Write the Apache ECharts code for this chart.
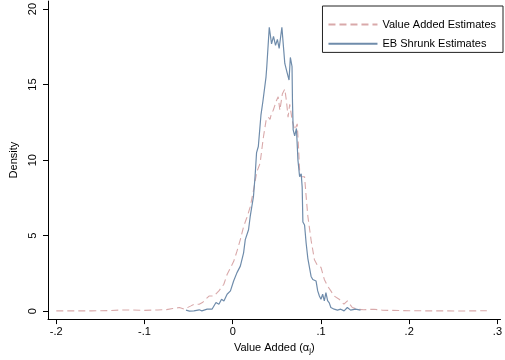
<!DOCTYPE html>
<html>
<head>
<meta charset="utf-8">
<script src="https://cdn.jsdelivr.net/npm/echarts@6/dist/echarts.min.js"></script>
<style>html,body{margin:0;padding:0;background:#fff}#c{width:505px;height:360px}</style>
</head>
<body>
<div id="c"></div>
<script>
const seriesNames = ['Value Added Estimates', 'EB Shrunk Estimates'];
const xTicks = [-0.2, -0.1, 0, 0.1, 0.2, 0.3];
const xTickLabels = ['-.2', '-.1', '0', '.1', '.2', '.3'];
const yTicks = [0, 5, 10, 15, 20];
const yTickLabels = ['0', '5', '10', '15', '20'];

// [value added, density]
const valueAdded = [[-0.2,0.02],[-0.18,0.02],[-0.16,0.02],[-0.14,0.04],[-0.125,0.08],[-0.115,0.08],[-0.1,0.05],[-0.085,0.08],[-0.075,0.1],[-0.068,0.18],[-0.0605,0.24],[-0.0549,0.13],[-0.0474,0.35],[-0.0437,0.46],[-0.038,0.46],[-0.0344,0.57],[-0.0269,1.0],[-0.0213,1.0],[-0.0157,1.34],[-0.0101,1.78],[-0.0064,2.43],[-0.0026,2.87],[0.0011,3.3],[0.0048,3.97],[0.0086,4.74],[0.0123,5.6],[0.016,6.2],[0.0198,6.9],[0.0235,8.0],[0.0272,9.2],[0.031,9.8],[0.0347,11.5],[0.0377,12.6],[0.0403,12.85],[0.0422,12.7],[0.044,13.1],[0.0459,13.3],[0.0496,13.95],[0.0515,14.2],[0.0534,13.3],[0.0563,14.4],[0.059,14.7],[0.0608,13.95],[0.0627,12.85],[0.0646,13.7],[0.0675,12.6],[0.0702,12.0],[0.0731,12.4],[0.0747,10.7],[0.0758,9.3],[0.0776,8.9],[0.0795,8.8],[0.0814,8.9],[0.0832,7.6],[0.0851,6.3],[0.0888,4.7],[0.0926,3.4],[0.0963,3.0],[0.1,2.9],[0.1038,2.1],[0.1075,1.66],[0.1112,1.34],[0.115,1.0],[0.1206,0.79],[0.126,0.46],[0.13,0.68],[0.1355,0.24],[0.141,0.13],[0.1486,0.09],[0.16,0.13],[0.17,0.06],[0.18,0.05],[0.2,0.03],[0.22,0.02],[0.24,0.02],[0.26,0.01],[0.275,0.02],[0.288,0.03]];

const ebShrunk = [[-0.053,0.07],[-0.049,0.0],[-0.044,0.02],[-0.038,0.09],[-0.035,0.02],[-0.029,0.13],[-0.0235,0.13],[-0.019,0.57],[-0.0157,0.46],[-0.0127,0.79],[-0.010,0.68],[-0.0064,1.12],[-0.0026,1.34],[0.001,2.0],[0.0048,2.55],[0.0086,2.98],[0.0123,3.86],[0.0142,4.74],[0.0179,5.39],[0.0198,6.27],[0.0235,7.59],[0.0254,9.0],[0.027,10.5],[0.029,10.9],[0.031,11.0],[0.032,13.0],[0.0342,13.9],[0.0377,15.5],[0.0386,16.2],[0.0414,18.8],[0.044,17.7],[0.0462,18.2],[0.0485,17.6],[0.0506,18.0],[0.0526,17.4],[0.0557,18.8],[0.0579,17.2],[0.059,16.4],[0.0616,15.8],[0.0638,15.3],[0.0653,16.8],[0.0672,16.2],[0.0677,13.9],[0.0685,12.0],[0.0702,11.6],[0.0722,12.1],[0.0739,10.0],[0.0758,8.9],[0.0765,8.9],[0.0776,9.1],[0.0787,8.2],[0.0795,5.9],[0.0814,5.7],[0.0832,4.5],[0.0851,3.5],[0.087,3.4],[0.0888,2.3],[0.0907,2.1],[0.0944,2.0],[0.0963,1.34],[0.0982,1.0],[0.1,0.79],[0.1019,1.12],[0.1038,0.68],[0.1056,1.23],[0.1075,0.7],[0.1094,0.55],[0.1112,0.24],[0.1131,0.35],[0.115,0.13],[0.1187,0.07],[0.1224,0.13],[0.1262,0.02],[0.1299,0.24],[0.1336,0.07],[0.1392,0.13],[0.1448,0.07]];

const font = '"Liberation Sans", Arial, sans-serif';
const chart = echarts.init(document.getElementById('c'), null, {renderer: 'canvas'});
const lab = (ticks, labels) => v => {
  const i = ticks.findIndex(t => Math.abs(t - v) < 1e-9);
  return i >= 0 ? labels[i] : '';
};
chart.setOption({
  animation: false,
  textStyle: {fontFamily: font},
  grid: {left: 47, right: 0, top: 0, bottom: 40},
  legend: {
    orient: 'vertical', right: 2, top: 6,
    data: seriesNames,
    itemWidth: 49, itemHeight: 14, itemGap: 8,
    padding: [13, 7, 3, 5],
    itemStyle: {opacity: 0},
    borderColor: '#222', borderWidth: 1, backgroundColor: '#fff',
    textStyle: {fontSize: 11, color: '#000', fontFamily: font}
  },
  xAxis: {
    type: 'value', min: -0.2094, max: 0.3035,
    splitLine: {show: false},
    axisLine: {show: true, onZero: false, lineStyle: {color: '#000', width: 1}},
    axisTick: {show: true, customValues: xTicks, length: 5, lineStyle: {color: '#000'}},
    axisLabel: {customValues: xTicks, formatter: lab(xTicks, xTickLabels), color: '#000', fontSize: 11, margin: 7, fontFamily: font},
    name: 'Value Added (α{s|j})', nameLocation: 'middle', nameGap: 17,
    nameTextStyle: {color: '#000', fontSize: 11, fontFamily: font,
      rich: {s: {fontSize: 8, padding: [7, 0, 0, 0], color: '#000', fontFamily: font}}}
  },
  yAxis: {
    type: 'value', min: -0.526, max: 20.53,
    splitLine: {show: false},
    axisLine: {show: true, onZero: false, lineStyle: {color: '#000', width: 1}},
    axisTick: {show: true, customValues: yTicks, length: 5, lineStyle: {color: '#000'}},
    axisLabel: {customValues: yTicks, formatter: lab(yTicks, yTickLabels), rotate: 90, color: '#000', fontSize: 11, margin: 10, fontFamily: font},
    name: 'Density', nameLocation: 'middle', nameGap: 29, nameRotate: 90,
    nameTextStyle: {color: '#000', fontSize: 11, fontFamily: font}
  },
  series: [
    {name: seriesNames[0], type: 'line', data: valueAdded, showSymbol: false, symbol: 'none',
     lineStyle: {color: '#d9a9aa', width: 1.1, type: [7, 4]}, itemStyle: {color: '#d9a9aa'}, z: 2},
    {name: seriesNames[1], type: 'line', data: ebShrunk, showSymbol: false, symbol: 'none',
     lineStyle: {color: '#6f8cab', width: 1.2}, itemStyle: {color: '#6f8cab'}, z: 3}
  ]
});
</script>
</body>
</html>
